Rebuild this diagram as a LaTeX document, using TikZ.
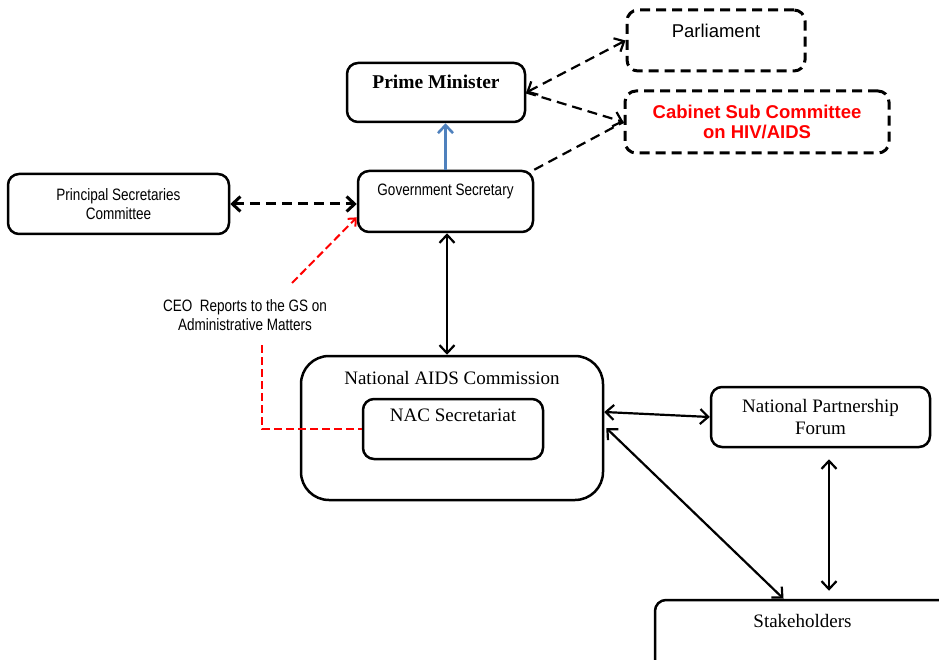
\documentclass[tikz,border=0pt]{standalone}
\usepackage{fontspec}
\setmainfont{Liberation Serif}
\newfontfamily\arialfont{Liberation Sans}
\newfontfamily\narrowfont[FakeStretch=0.82]{Liberation Sans}
\usetikzlibrary{calc, positioning, arrows.meta}
\definecolor{gsblue}{RGB}{79,129,189}
\definecolor{cabred}{RGB}{255,0,0}

\begin{document}
\begin{tikzpicture}[x=1pt,y=-1pt,>={Straight Barb[length=8pt,width=15pt]},
    box/.style={draw,rounded corners=11pt,line width=2.5pt,inner sep=0pt},
    dash box/.style={box,line width=3pt,dash pattern=on 10pt off 6pt},
    link/.style={<->,line width=2.2pt},
    dash link/.style={line width=2.2pt,dash pattern=on 10pt off 6pt},
    red link/.style={cabred,line width=2pt,dash pattern=on 8pt off 4pt},
    narrow text/.style={font=\narrowfont\fontsize{16.5}{19}\selectfont,align=center},
    serif text/.style={font=\fontsize{19}{22}\selectfont,align=center}]

  \clip (0,0) rectangle (939,660);

  % top: parliament and cabinet
  \node[dash box,minimum width=178pt,minimum height=61pt] (parl) at (716,40.5) {};
  \node[font=\arialfont\fontsize{18.5}{22}\selectfont,anchor=base] (parltext)
    at ($(parl.north)+(0,29.5)$) {Parliament};
  \node[dash box,minimum width=264pt,minimum height=62pt,text=cabred,align=center,
        font=\arialfont\bfseries\fontsize{18.5}{20}\selectfont] (cab) at (757,122)
    {Cabinet Sub Committee\\on HIV/AIDS};

  \node[box,minimum width=178pt,minimum height=59pt] (pm) at (436,92.5) {};
  \node[font=\bfseries\fontsize{19.5}{22}\selectfont,anchor=base] (pmtext)
    at ($(pm.north)+(0,26.5)$) {Prime Minister};

  % government secretary row
  \node[box,minimum width=175pt,minimum height=61pt] (gs) at (445.5,201.5) {};
  \node[narrow text,anchor=base] (gstext) at ($(gs.north)+(0,26)$) {Government Secretary};
  \node[box,minimum width=221pt,minimum height=60pt,narrow text] (psc) at (118.5,204)
    {Principal Secretaries\\Committee};
  \node[narrow text] (ceo) at (245,315) {CEO\ \ Reports to the GS on\\Administrative Matters};

  % commission
  \node[box,rounded corners=28pt,minimum width=302pt,minimum height=144pt] (nac) at (452,428) {};
  \node[serif text,anchor=base] (nactext) at ($(nac.north)+(0,30)$) {National AIDS Commission};
  \node[box,minimum width=180pt,minimum height=60pt] (sec) at (453,429) {};
  \node[serif text,anchor=base] (sectext) at ($(sec.north)+(0,24)$) {NAC Secretariat};

  \node[box,minimum width=219pt,minimum height=60pt,serif text] (npf) at (820.5,417)
    {National Partnership\\Forum};
  \node[box,minimum width=295pt,minimum height=90pt] (stake) at (802.5,645) {};
  \node[serif text,anchor=base] (staketext) at ($(stake.north)+(0,29)$) {Stakeholders};

  \coordinate (ceoup) at (292,283);
  \coordinate (ceodown) at (262,345);

  % connectors
  \draw[dash link,<->] (pm.east) -- (parl.west);
  \draw[dash link,->] (pm.east) -- (cab.west);
  \draw[dash link] (gs.north east) -- (cab.west);
  \draw[->,gsblue,line width=2.6pt] (gs.north) -- (gs.north |- pm.south);
  \draw[dash link,<->,line width=3pt] (psc.east) -- (psc.east -| gs.west);
  \draw[link] ([xshift=1.5pt]gs.south) -- ([xshift=1.5pt]gs.south |- nac.north);
  \draw[link] ([yshift=16pt]nac.east) -- (npf.west);
  \draw[link] ([xshift=2pt]nac.east) -- ([xshift=-19pt]stake.north);
  \draw[link,shorten <=11pt,shorten >=8pt] ([xshift=8.5pt]npf.south)
    -- ([xshift=8.5pt]npf.south |- stake.north);

  \draw[red link,->,>={Straight Barb[length=6pt,width=11pt]}] (ceoup)
    -- ($(gs.west)!0.5!(gs.south west)$);
  \draw[red link] (ceodown) |- (sec.west);

\end{tikzpicture}
\end{document}
